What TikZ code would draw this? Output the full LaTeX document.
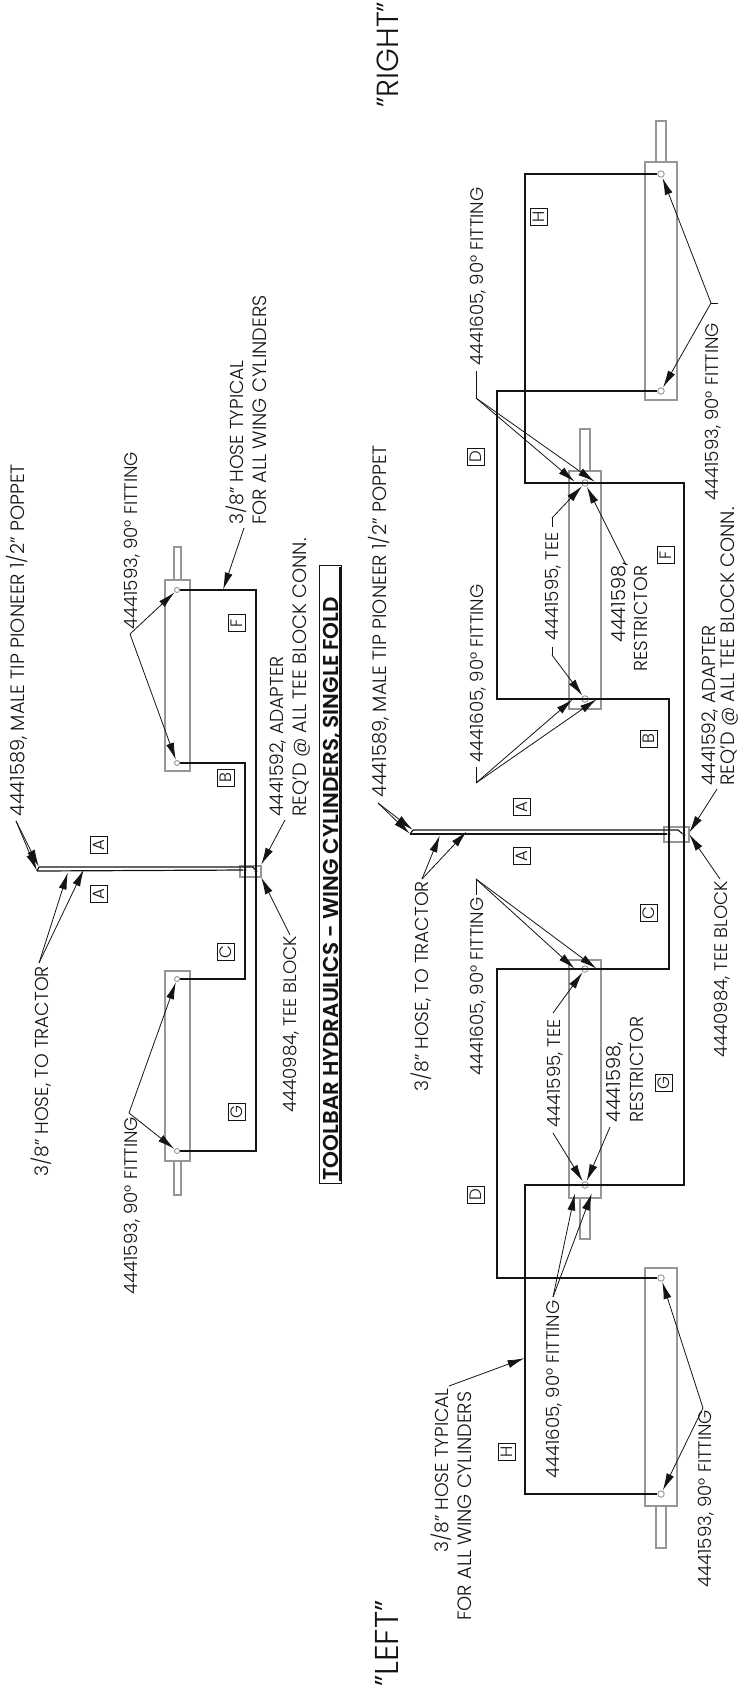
\documentclass[tikz,border=0pt]{standalone}
\usepackage{fontspec}
\setmainfont{Poppins Light}[BoldFont=Poppins SemiBold]
\usetikzlibrary{arrows.meta}
\definecolor{C0}{RGB}{150,150,150}
\definecolor{C1}{RGB}{20,20,20}

\tikzset{
  cyl/.style={draw=C0,line width=1.1pt},
  hose/.style={draw=C1,line width=1.3pt},
  twin/.style={draw=C1,line width=1.2pt},
  leader/.style={draw=C1,line width=0.8pt,-{Latex[length=17pt,width=8pt]},shorten >=0.5pt},
  stub/.style={draw=C1,line width=0.8pt},
  fitting/.style={circle,draw=C0,fill=white,line width=0.9pt,inner sep=0pt,minimum size=5pt},
  bigfitting/.style={fitting,minimum size=6.5pt},
  tdot/.style={circle,fill=C0!70!black,inner sep=0pt,minimum size=3.5pt},
  label/.style={rotate=90,anchor=base west,inner sep=0pt,text=C1,font=\fontsize{19.3}{19.3}\selectfont},
  labelmid/.style={label,font=\fontsize{18.7}{18.7}\selectfont},
  labelnum/.style={label,font=\fontsize{18.2}{18.2}\selectfont},
  tag/.style={draw=C1,rotate=90,inner sep=0pt,minimum size=17pt,line width=0.7pt,text=C1,font=\fontsize{16.5}{16.5}\selectfont},
}

\begin{document}
\begin{tikzpicture}[x=1pt,y=-1pt]
  \useasboundingbox (0,0) rectangle (738,1690);

  % Upper pair of cylinders.
  \draw[cyl] (165,580) rectangle (190,771);
  \draw[cyl] (174,580) rectangle (181,547);
  \draw[cyl] (165,971) rectangle (190,1161);
  \draw[cyl] (174,1161) rectangle (181,1195);
  \draw[cyl] (240,866) rectangle (261,877);

  \node[fitting] (fitF) at (177,590) {};
  \node[fitting] (fitB) at (177,763) {};
  \node[fitting] (fitC) at (177,979) {};
  \node[fitting] (fitG) at (177,1151) {};
  \node[tdot] (teeIn) at (245,870) {};
  \node[tdot] (teeOut) at (256,871) {};

  % Hoses, upper pair.
  \draw[hose] (fitF) -- (256,590) -- (256,1151) -- (fitG);
  \draw[hose] (fitB) -- (245,763) -- (245,979) -- (fitC);
  \coordinate (tractorA) at (37,871);
  \coordinate (tractorB) at (39,867);
  \draw[twin] (tractorA) -- (teeIn);
  \draw[twin] (tractorB) -- (253,867) -- (teeOut);
  \draw[twin] (tractorA) -- (tractorB);

  % Labels, upper pair.
  \node[label] (poppetU) at (24,817) {4441589, MALE TIP PIONEER 1/2" POPPET};
  \node[labelmid] (tractorU) at (48,1177) {3/8" HOSE, TO TRACTOR};
  \node[labelnum] (fitTopU) at (137,630) {4441593, 90° FITTING};
  \node[labelnum] (fitBotU) at (137,1295) {4441593, 90° FITTING};
  \node[labelmid] (typU) at (243,525) {3/8" HOSE TYPICAL};
  \node[label] (typUb) at (266,525) {FOR ALL WING CYLINDERS};
  \node[labelmid] (adaptU) at (283,817) {4441592, ADAPTER};
  \node[label] (reqU) at (306,817) {REQ'D @ ALL TEE BLOCK CONN.};
  \node[labelnum] (blockU) at (296,1113) {4440984, TEE BLOCK};

  % Title and side names.
  \draw[draw=C1,line width=0.6pt] (319,565) rectangle (341,1183);
  \node[label,font=\fontsize{21.5}{21.5}\selectfont\bfseries] (title) at (338,1181) {TOOLBAR HYDRAULICS - WING CYLINDERS, SINGLE FOLD};
  \draw[draw=C1,line width=1.4pt] (340,567) -- (340,1181);
  \node[label,font=\fontsize{30.5}{30.5}\selectfont] (right) at (398,108) {"RIGHT"};
  \node[label,font=\fontsize{33}{33}\selectfont] (left) at (398,1687) {"LEFT"};

  % Leaders, upper pair.
  \coordinate (elbPoppetU) at (16,821);
  \draw[leader] (elbPoppetU) -- (tractorA);
  \draw[leader] (elbPoppetU) -- (tractorB);
  \coordinate (elbTractorU) at (39,963);
  \coordinate (tipTractorU) at (68,872);
  \coordinate (tipTractorUb) at (84,869);
  \draw[leader] (elbTractorU) -- (tipTractorU);
  \draw[leader] (elbTractorU) -- (tipTractorUb);
  \coordinate (elbFitTopU) at (130,634);
  \draw[leader] (elbFitTopU) -- (fitF);
  \draw[leader] (elbFitTopU) -- (fitB);
  \coordinate (elbFitBotU) at (129,1113);
  \draw[leader] (elbFitBotU) -- (fitC);
  \draw[leader] (elbFitBotU) -- (fitG);
  \coordinate (elbTypU) at (244,528);
  \coordinate (tipTypU) at (223,590);
  \draw[leader] (elbTypU) -- (tipTypU);
  \coordinate (elbAdaptU) at (285,820);
  \coordinate (tipAdaptU) at (261,865);
  \draw[leader] (elbAdaptU) -- (tipAdaptU);
  \coordinate (elbBlockU) at (290,935);
  \coordinate (tipBlockU) at (261,877);
  \draw[leader] (elbBlockU) -- (tipBlockU);

  % Tags, upper pair.
  \node[tag] (tagAu) at (99,845) {A};
  \node[tag] (tagAv) at (99,894) {A};
  \node[tag] (tagFu) at (237,623) {F};
  \node[tag] (tagBu) at (226,778) {B};
  \node[tag] (tagCu) at (226,952) {C};
  \node[tag] (tagGu) at (237,1112) {G};

  % Lower group, four cylinders.
  \draw[cyl] (645,162) rectangle (677,400);
  \draw[cyl] (656,162) rectangle (666,121);
  \draw[cyl] (569,471) rectangle (601,709);
  \draw[cyl] (580,471) rectangle (590,429);
  \draw[cyl] (569,960) rectangle (601,1198);
  \draw[cyl] (580,1198) rectangle (590,1239);
  \draw[cyl] (645,1268) rectangle (677,1506);
  \draw[cyl] (656,1506) rectangle (666,1548);
  \draw[cyl] (664,827) rectangle (689,842);

  \node[bigfitting] (fitH) at (661,174) {};
  \node[bigfitting] (fitD) at (661,391) {};
  \node[bigfitting] (teeF) at (585,483) {};
  \node[bigfitting] (teeB) at (585,699) {};
  \node[bigfitting] (teeC) at (585,969) {};
  \node[bigfitting] (teeG) at (585,1185) {};
  \node[bigfitting] (fitE) at (661,1278) {};
  \node[bigfitting] (fitK) at (661,1494) {};
  \node[tdot] (blockIn) at (669,834) {};
  \node[tdot] (blockOut) at (684,835) {};

  % Hoses, lower group.
  \draw[hose] (fitH) -- (525,174) -- (525,483) -- (684,483) -- (684,1185) -- (525,1185) -- (525,1494) -- (fitK);
  \draw[hose] (fitD) -- (497,391) -- (497,699) -- (669,699) -- (669,969) -- (497,969) -- (497,1278) -- (fitE);
  \coordinate (tractorC) at (410,834);
  \coordinate (tractorD) at (413,830);
  \draw[twin] (tractorC) -- (blockIn);
  \draw[twin] (tractorD) -- (678,830) -- (blockOut);
  \draw[twin] (tractorC) -- (tractorD);

  % Labels, lower group.
  \node[label] (poppetL) at (386,798) {4441589, MALE TIP PIONEER 1/2" POPPET};
  \node[labelmid] (tractorL) at (428,1092) {3/8" HOSE, TO TRACTOR};
  \node[labelnum] (fitA) at (483,366) {4441605, 90° FITTING};
  \node[labelnum] (fitBb) at (483,763) {4441605, 90° FITTING};
  \node[labelnum] (fitCc) at (483,1076) {4441605, 90° FITTING};
  \node[labelnum] (fitDd) at (559,1479) {4441605, 90° FITTING};
  \node[labelnum] (teeA) at (558,641) {4441595, TEE};
  \node[labelnum] (teeBb) at (560,1128) {4441595, TEE};
  \node[label] (resA) at (625,643) {4441598,};
  \node[labelmid] (resB) at (647,672) {RESTRICTOR};
  \node[label] (resC) at (620,1123) {4441598,};
  \node[labelmid] (resD) at (643,1123) {RESTRICTOR};
  \node[labelnum] (fitTopL) at (718,501) {4441593, 90° FITTING};
  \node[labelnum] (fitBotL) at (711,1588) {4441593, 90° FITTING};
  \node[labelmid] (typL) at (448,1553) {3/8" HOSE TYPICAL};
  \node[label] (typLb) at (471,1621) {FOR ALL WING CYLINDERS};
  \node[labelmid] (adaptL) at (715,786) {4441592, ADAPTER};
  \node[label] (reqL) at (734,786) {REQ'D @ ALL TEE BLOCK CONN.};
  \node[labelnum] (blockL) at (727,1058) {4440984, TEE BLOCK};

  % Leaders, lower group.
  \coordinate (elbPoppetL) at (378,803);
  \draw[leader] (elbPoppetL) -- (tractorC);
  \draw[leader] (elbPoppetL) -- (tractorD);
  \coordinate (elbTractorL) at (422,879);
  \coordinate (tipTractorL) at (440,835);
  \coordinate (tipTractorLb) at (467,831);
  \draw[leader] (elbTractorL) -- (tipTractorL);
  \draw[leader] (elbTractorL) -- (tipTractorLb);

  \coordinate (stubA) at (476,371);
  \coordinate (elbA) at (476,398);
  \coordinate (tipAa) at (575,482);
  \coordinate (tipAb) at (595,482);
  \draw[stub] (stubA) -- (elbA);
  \draw[leader] (elbA) -- (tipAa);
  \draw[leader] (elbA) -- (tipAb);
  \coordinate (stubB) at (476,767);
  \coordinate (elbB) at (476,783);
  \coordinate (tipBa) at (573,699);
  \coordinate (tipBb) at (597,699);
  \draw[stub] (stubB) -- (elbB);
  \draw[leader] (elbB) -- (tipBa);
  \draw[leader] (elbB) -- (tipBb);
  \coordinate (stubC) at (476,895);
  \coordinate (elbC) at (476,879);
  \coordinate (tipCa) at (575,969);
  \coordinate (tipCb) at (597,969);
  \draw[stub] (stubC) -- (elbC);
  \draw[leader] (elbC) -- (tipCa);
  \draw[leader] (elbC) -- (tipCb);
  \coordinate (elbD) at (553,1297);
  \coordinate (tipDa) at (575,1193);
  \coordinate (tipDb) at (592,1193);
  \draw[leader] (elbD) -- (tipDa);
  \draw[leader] (elbD) -- (tipDb);

  \coordinate (stubTeeA) at (552,527);
  \coordinate (elbTeeA) at (552,518);
  \draw[stub] (stubTeeA) -- (elbTeeA);
  \draw[leader] (elbTeeA) -- (teeF);
  \coordinate (stubTeeB) at (552,647);
  \coordinate (elbTeeB) at (552,655);
  \draw[stub] (stubTeeB) -- (elbTeeB);
  \draw[leader] (elbTeeB) -- (teeB);
  \coordinate (elbTeeC) at (553,1013);
  \draw[leader] (elbTeeC) -- (teeC);
  \coordinate (elbTeeD) at (553,1133);
  \draw[leader] (elbTeeD) -- (teeG);
  \coordinate (elbResA) at (626,565);
  \draw[leader] (elbResA) -- (teeF);
  \coordinate (elbResB) at (610,1127);
  \draw[leader] (elbResB) -- (teeG);

  \coordinate (stubFitTop) at (718,303);
  \coordinate (elbFitTop) at (711,303);
  \draw[stub] (stubFitTop) -- (elbFitTop);
  \draw[leader] (elbFitTop) -- (fitH);
  \draw[leader] (elbFitTop) -- (fitD);
  \coordinate (elbFitBot) at (703,1408);
  \draw[leader] (elbFitBot) -- (fitE);
  \draw[leader] (elbFitBot) -- (fitK);
  \coordinate (elbTypL) at (449,1386);
  \coordinate (tipTypL) at (525,1358);
  \draw[leader] (elbTypL) -- (tipTypL);
  \coordinate (elbAdaptL) at (717,789);
  \coordinate (tipAdaptL) at (689,833);
  \draw[leader] (elbAdaptL) -- (tipAdaptL);
  \coordinate (elbBlockL) at (720,879);
  \coordinate (tipBlockL) at (689,834);
  \draw[leader] (elbBlockL) -- (tipBlockL);

  % Tags, lower group.
  \node[tag] (tagDa) at (476,457) {D};
  \node[tag] (tagFl) at (666,555) {F};
  \node[tag] (tagBl) at (649,739) {B};
  \node[tag] (tagAl) at (522,807) {A};
  \node[tag] (tagAm) at (522,856) {A};
  \node[tag] (tagCl) at (649,913) {C};
  \node[tag] (tagGl) at (664,1083) {G};
  \node[tag] (tagDb) at (476,1195) {D};
  \node[tag] (tagHa) at (539,217) {H};
  \node[tag] (tagHb) at (507,1452) {H};
\end{tikzpicture}
\end{document}
